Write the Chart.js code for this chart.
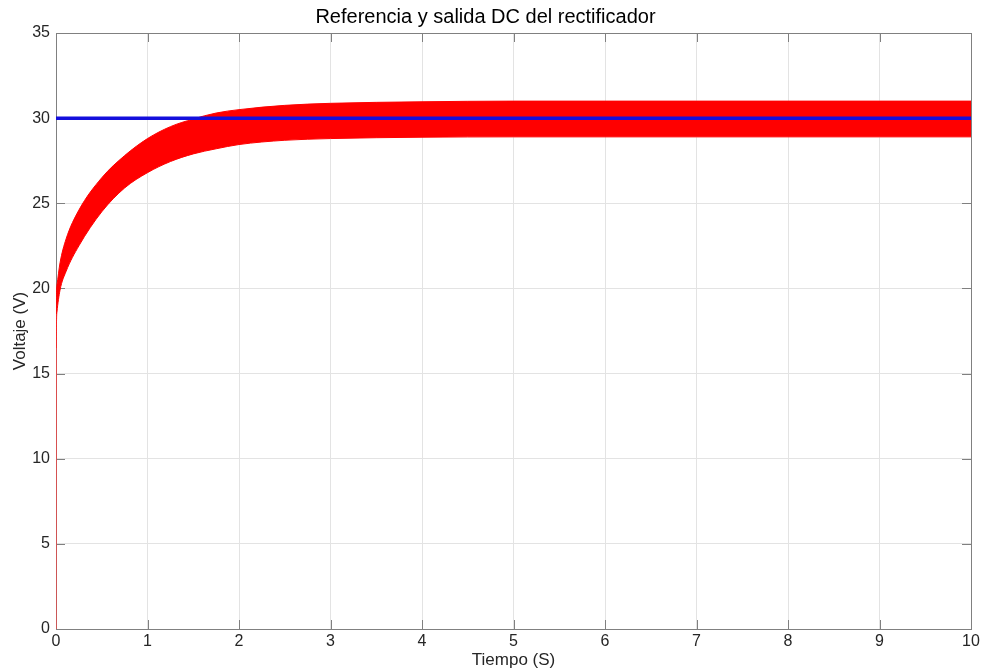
<!DOCTYPE html>
<html>
<head>
<meta charset="utf-8">
<script src="https://cdn.jsdelivr.net/npm/chart.js@4/dist/chart.umd.min.js"></script>
<style>
  html, body { margin: 0; padding: 0; background: #fff; }
  #wrap { width: 983px; height: 672px; }
</style>
</head>
<body>
<div id="wrap"><canvas id="rectChart" width="983" height="672"></canvas></div>
<script>
// time samples (s) and envelope of the rectifier output ripple (V)
var tiempo = [0, 0.003, 0.01, 0.044, 0.11, 0.25, 0.5, 0.75, 1, 1.25, 1.5, 1.75, 2, 2.5, 3, 4, 5, 6, 7, 8, 9, 10];
var salidaMax = [0, 18.5, 20.2, 21.5, 22.9, 24.6, 26.5, 27.8, 28.8, 29.5, 29.95, 30.3, 30.5, 30.75, 30.87, 30.96, 31.0, 31.0, 31.0, 31.0, 31.0, 31.0];
var salidaMin = [0, 16.5, 18.6, 19.9, 21.0, 22.5, 24.5, 25.9, 26.8, 27.45, 27.9, 28.2, 28.45, 28.7, 28.8, 28.88, 28.9, 28.9, 28.9, 28.9, 28.9, 28.9];
var refTiempo = [0, 10];
var referencia = [30, 30];
var xTicks = [0, 1, 2, 3, 4, 5, 6, 7, 8, 9, 10];
var yTicks = [0, 5, 10, 15, 20, 25, 30, 35];

function pts(xs, ys) {
    return xs.map(function (x, i) { return { x: x, y: ys[i] }; });
}

// matlab style box with inner ticks
const boxTicks = {
    id: 'boxTicks',
    beforeDatasetsDraw(chart) {
        const ctx = chart.ctx;
        const a = chart.chartArea;
        const sx = chart.scales.x, sy = chart.scales.y;
        ctx.save();
        ctx.strokeStyle = '#808080';
        ctx.lineWidth = 1;
        ctx.beginPath();
        xTicks.forEach(function (v) {
            const px = Math.round(sx.getPixelForValue(v)) + 0.5;
            ctx.moveTo(px, a.bottom); ctx.lineTo(px, a.bottom - 9);
            ctx.moveTo(px, a.top); ctx.lineTo(px, a.top + 9);
        });
        yTicks.forEach(function (v) {
            const py = Math.round(sy.getPixelForValue(v)) + 0.5;
            ctx.moveTo(a.left, py); ctx.lineTo(a.left + 9, py);
            ctx.moveTo(a.right, py); ctx.lineTo(a.right - 9, py);
        });
        ctx.stroke();
        ctx.strokeRect(Math.round(a.left) + 0.5, Math.round(a.top) + 0.5,
            Math.round(a.right - a.left), Math.round(a.bottom - a.top));
        ctx.restore();
    }
};

// first sample jump is a thin faint line
function startSeg(c) {
    return c.p0DataIndex === 0 ? 'rgba(255, 60, 60, 0.7)' : undefined;
}

var rectChart;

function init_rect() {
    const ctx = document.getElementById('rectChart').getContext('2d');
    rectChart = new Chart(ctx, {
        type: 'line',
        data: {
            datasets: [
                {
                    label: 'Referencia',
                    data: pts(refTiempo, referencia),
                    borderColor: 'rgb(20, 15, 220)',
                    borderWidth: 3.5,
                    pointRadius: 0,
                    fill: false
                },
                {
                    label: 'Salida max',
                    data: pts(tiempo, salidaMax),
                    borderColor: 'rgb(255, 0, 0)',
                    backgroundColor: 'rgb(255, 0, 0)',
                    borderWidth: 1,
                    pointRadius: 0,
                    cubicInterpolationMode: 'monotone',
                    segment: { borderColor: startSeg },
                    fill: '+1'
                },
                {
                    label: 'Salida min',
                    data: pts(tiempo, salidaMin),
                    borderColor: 'rgb(255, 0, 0)',
                    borderWidth: 1,
                    pointRadius: 0,
                    cubicInterpolationMode: 'monotone',
                    segment: { borderColor: startSeg },
                    fill: false
                }
            ]
        },
        options: {
            responsive: false,
            animation: false,
            layout: { padding: { left: 0, right: 12, top: 0, bottom: 0 } },
            plugins: {
                legend: { display: false },
                tooltip: { enabled: false },
                title: {
                    display: true,
                    text: 'Referencia y salida DC del rectificador',
                    color: '#000',
                    font: { family: 'Liberation Sans', size: 20, weight: 'normal' },
                    padding: { top: 5, bottom: 4 }
                }
            },
            scales: {
                x: {
                    type: 'linear',
                    min: 0,
                    max: 10,
                    afterBuildTicks: function (s) { s.ticks = xTicks.map(function (v) { return { value: v }; }); },
                    afterFit: function (s) { s.height = 43; },
                    grid: { color: '#e3e3e3', drawTicks: false },
                    border: { color: '#808080' },
                    ticks: {
                        color: '#262626', padding: 3, maxRotation: 0,
                        font: { family: 'Liberation Sans', size: 16 }
                    },
                    title: {
                        display: true, text: 'Tiempo (S)', color: '#262626',
                        padding: { top: 0, bottom: 1 },
                        font: { family: 'Liberation Sans', size: 17 }
                    }
                },
                y: {
                    type: 'linear',
                    min: 0,
                    max: 35,
                    afterBuildTicks: function (s) { s.ticks = yTicks.map(function (v) { return { value: v }; }); },
                    afterFit: function (s) { s.width = 56; },
                    grid: { color: '#e3e3e3', drawTicks: false },
                    border: { color: '#808080' },
                    ticks: {
                        color: '#262626', padding: 6,
                        font: { family: 'Liberation Sans', size: 16 }
                    },
                    title: {
                        display: true, text: 'Voltaje (V)', color: '#262626',
                        padding: { top: 10, bottom: 0 },
                        font: { family: 'Liberation Sans', size: 17 }
                    }
                }
            }
        },
        plugins: [boxTicks]
    });
}

init_rect();
</script>
</body>
</html>
